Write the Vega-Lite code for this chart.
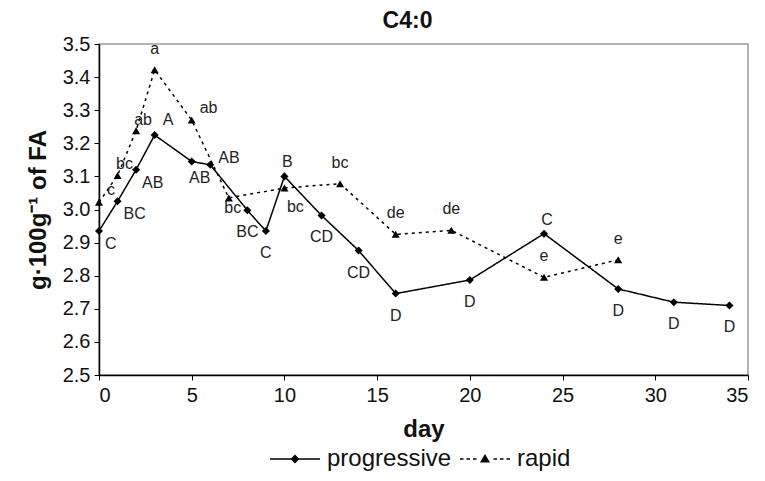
{
  "$schema": "https://vega.github.io/schema/vega-lite/v6.json",
  "width": 649,
  "height": 331,
  "autosize": {"type": "none"},
  "padding": {"left": 99, "top": 44, "right": 17, "bottom": 106},
  "background": "white",
  "title": {"text": "C4:0", "font": "Liberation Sans", "fontSize": 23, "fontWeight": "bold", "color": "#111", "offset": 1, "anchor": "middle", "dx": -16},
  "config": {
    "view": {"stroke": "#999999", "strokeWidth": 1.5},
    "axis": {"grid": false, "domainColor": "#000", "domainWidth": 1.5, "tickColor": "#000", "tickSize": 5, "labelFont": "Liberation Sans", "labelFontSize": 20, "labelColor": "#111", "titleFont": "Liberation Sans", "titleFontSize": 24, "titleFontWeight": "bold", "titleColor": "#111"},
    "text": {"font": "Liberation Sans", "fontSize": 16, "color": "#222", "baseline": "middle"}
  },
  "data": {"values": [
    {"series": "progressive", "day": 0, "value": 2.935, "label": "C"},
    {"series": "progressive", "day": 1, "value": 3.025, "label": "BC"},
    {"series": "progressive", "day": 2, "value": 3.12, "label": "AB"},
    {"series": "progressive", "day": 3, "value": 3.225, "label": "A"},
    {"series": "progressive", "day": 5, "value": 3.145, "label": "AB"},
    {"series": "progressive", "day": 6, "value": 3.135, "label": "AB"},
    {"series": "progressive", "day": 8, "value": 2.998, "label": "BC"},
    {"series": "progressive", "day": 9, "value": 2.935, "label": "C"},
    {"series": "progressive", "day": 10, "value": 3.1, "label": "B"},
    {"series": "progressive", "day": 12, "value": 2.982, "label": "CD"},
    {"series": "progressive", "day": 14, "value": 2.876, "label": "CD"},
    {"series": "progressive", "day": 16, "value": 2.746, "label": "D"},
    {"series": "progressive", "day": 20, "value": 2.787, "label": "D"},
    {"series": "progressive", "day": 24, "value": 2.927, "label": "C"},
    {"series": "progressive", "day": 28, "value": 2.76, "label": "D"},
    {"series": "progressive", "day": 31, "value": 2.72, "label": "D"},
    {"series": "progressive", "day": 34, "value": 2.71, "label": "D"},
    {"series": "rapid", "day": 0, "value": 3.022, "label": "c"},
    {"series": "rapid", "day": 1, "value": 3.103, "label": "bc"},
    {"series": "rapid", "day": 2, "value": 3.238, "label": "ab"},
    {"series": "rapid", "day": 3, "value": 3.422, "label": "a"},
    {"series": "rapid", "day": 5, "value": 3.27, "label": "ab"},
    {"series": "rapid", "day": 7, "value": 3.035, "label": "bc"},
    {"series": "rapid", "day": 10, "value": 3.065, "label": "bc"},
    {"series": "rapid", "day": 13, "value": 3.078, "label": "bc"},
    {"series": "rapid", "day": 16, "value": 2.925, "label": "de"},
    {"series": "rapid", "day": 19, "value": 2.937, "label": "de"},
    {"series": "rapid", "day": 24, "value": 2.795, "label": "e"},
    {"series": "rapid", "day": 28, "value": 2.848, "label": "e"}
  ]},
  "encoding": {
    "x": {"field": "day", "type": "quantitative", "scale": {"domain": [0, 35], "nice": false}, "axis": {"values": [0, 5, 10, 15, 20, 25, 30, 35], "title": "day", "titlePadding": 12, "labelPadding": 5}},
    "y": {"field": "value", "type": "quantitative", "scale": {"domain": [2.5, 3.5], "nice": false, "zero": false}, "axis": {"values": [2.5, 2.6, 2.7, 2.8, 2.9, 3.0, 3.1, 3.2, 3.3, 3.4, 3.5], "format": ".1f", "title": "g·100g⁻¹ of FA", "titlePadding": 12, "labelPadding": 4}}
  },
  "layer": [
    {
      "mark": {"type": "line", "color": "#000", "strokeWidth": 1.5},
      "encoding": {
        "strokeDash": {"field": "series", "type": "nominal", "scale": {"domain": ["progressive", "rapid"], "range": [[1, 0], [3, 4]]},
          "legend": {"title": null, "orient": "none", "legendX": 169, "legendY": 403, "direction": "horizontal", "labelFont": "Liberation Sans", "labelFontSize": 24, "labelColor": "#111", "symbolSize": 400, "symbolStrokeWidth": 0, "symbolStrokeColor": "#000", "symbolFillColor": "#000", "symbolOpacity": 1, "labelOffset": 20, "symbolOffset": 15, "columnPadding": 6, "padding": 0,
            "encode": {"symbols": {"update": {"shape": {"signal": "datum.value === 'rapid' ? 'M-2.5,-0.07H-2.15V0.07H-2.5Z M-1.85,-0.07H-1.5V0.07H-1.85Z M-1.2,-0.07H-0.85V0.07H-1.2Z M0.85,-0.07H1.2V0.07H0.85Z M1.5,-0.07H1.85V0.07H1.5Z M2.15,-0.07H2.5V0.07H2.15Z M0,-0.5L0.5,0.35L-0.5,0.35Z' : 'M-2.5,-0.07H2.5V0.07H-2.5Z M0,-0.45L0.45,0L0,0.45L-0.45,0Z'"}, "fill": {"value": "#000"}, "fillOpacity": {"value": 1}, "strokeWidth": {"value": 0}, "opacity": {"value": 1}}}}}
        }
      }
    },
    {
      "transform": [{"filter": "datum.series === 'progressive'"}],
      "mark": {"type": "point", "shape": "diamond", "filled": true, "color": "#000", "size": 65, "opacity": 1}
    },
    {
      "transform": [{"filter": "datum.series === 'rapid'"}],
      "mark": {"type": "point", "shape": "triangle-up", "filled": true, "color": "#000", "size": 65, "opacity": 1}
    },
    {
      "transform": [{"filter": "datum.series === 'progressive' && indexof([0, 1, 2], datum.day) >= 0"}],
      "mark": {"type": "text", "align": "left", "dx": 6, "dy": 13},
      "encoding": {"text": {"field": "label"}}
    },
    {
      "transform": [{"filter": "datum.series === 'progressive' && datum.day === 3"}],
      "mark": {"type": "text", "align": "left", "dx": 8, "dy": -15},
      "encoding": {"text": {"field": "label"}}
    },
    {
      "transform": [{"filter": "datum.series === 'progressive' && datum.day === 5"}],
      "mark": {"type": "text", "align": "center", "dx": 8, "dy": 16},
      "encoding": {"text": {"field": "label"}}
    },
    {
      "transform": [{"filter": "datum.series === 'progressive' && datum.day === 6"}],
      "mark": {"type": "text", "align": "left", "dx": 8, "dy": -7},
      "encoding": {"text": {"field": "label"}}
    },
    {
      "transform": [{"filter": "datum.series === 'progressive' && indexof([8, 9, 12, 14, 16, 20, 28, 31, 34], datum.day) >= 0"}],
      "mark": {"type": "text", "align": "center", "dy": 22},
      "encoding": {"text": {"field": "label"}}
    },
    {
      "transform": [{"filter": "datum.series === 'progressive' && indexof([10, 24], datum.day) >= 0"}],
      "mark": {"type": "text", "align": "center", "dx": 3, "dy": -14},
      "encoding": {"text": {"field": "label"}}
    },
    {
      "transform": [{"filter": "datum.series === 'rapid' && indexof([0, 5], datum.day) >= 0"}],
      "mark": {"type": "text", "align": "left", "dx": 8, "dy": -12},
      "encoding": {"text": {"field": "label"}}
    },
    {
      "transform": [{"filter": "datum.series === 'rapid' && indexof([1, 2], datum.day) >= 0"}],
      "mark": {"type": "text", "align": "center", "dx": 7, "dy": -11},
      "encoding": {"text": {"field": "label"}}
    },
    {
      "transform": [{"filter": "datum.series === 'rapid' && indexof([3, 13, 16, 19, 24, 28], datum.day) >= 0"}],
      "mark": {"type": "text", "align": "center", "dy": -21},
      "encoding": {"text": {"field": "label"}}
    },
    {
      "transform": [{"filter": "datum.series === 'rapid' && datum.day === 7"}],
      "mark": {"type": "text", "align": "center", "dx": 4, "dy": 10},
      "encoding": {"text": {"field": "label"}}
    },
    {
      "transform": [{"filter": "datum.series === 'rapid' && datum.day === 10"}],
      "mark": {"type": "text", "align": "center", "dx": 11, "dy": 19},
      "encoding": {"text": {"field": "label"}}
    }
  ]
}
